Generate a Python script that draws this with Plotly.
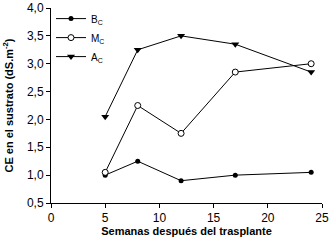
import plotly.graph_objects as go

weeks = [5, 8, 12, 17, 24]
b_c = [1.0, 1.25, 0.9, 1.0, 1.05]
m_c = [1.05, 2.25, 1.75, 2.85, 3.0]
a_c = [2.05, 3.25, 3.5, 3.35, 2.85]

x_ticks = [0, 5, 10, 15, 20, 25]
y_ticks = [0.5, 1.0, 1.5, 2.0, 2.5, 3.0, 3.5, 4.0]

fig = go.Figure()
fig.add_trace(go.Scatter(x=weeks, y=b_c, name="B<sub>C</sub>", mode="lines+markers",
                         line=dict(color="black", width=1),
                         marker=dict(symbol="circle", size=5, color="black")))
fig.add_trace(go.Scatter(x=weeks, y=m_c, name="M<sub>C</sub>", mode="lines+markers",
                         line=dict(color="black", width=1),
                         marker=dict(symbol="circle", size=6, color="white",
                                     line=dict(color="black", width=1))))
fig.add_trace(go.Scatter(x=weeks, y=a_c, name="A<sub>C</sub>", mode="lines+markers",
                         line=dict(color="black", width=1),
                         marker=dict(symbol="triangle-down", size=7, color="black")))

fig.update_layout(
    width=335, height=247,
    margin=dict(l=51, r=13, t=8, b=44, autoexpand=False),
    paper_bgcolor="white", plot_bgcolor="white",
    separators=",.",
    font=dict(family="Liberation Sans, Arial, sans-serif", size=12, color="black"),
    showlegend=True,
    legend=dict(x=0.0, y=1.02, xanchor="left", yanchor="top",
                bgcolor="rgba(0,0,0,0)", font=dict(size=10),
                tracegroupgap=0, itemwidth=30),
    xaxis=dict(range=[0, 25], tickvals=x_ticks, showgrid=False, zeroline=False,
               showline=True, linecolor="black", linewidth=1, automargin=False,
               ticks="outside", ticklen=4, tickcolor="black",
               title=dict(text="<b>Semanas después del trasplante</b>", font=dict(size=11), standoff=0)),
    yaxis=dict(range=[0.5, 4.0], tickvals=y_ticks, tickformat=".1f", showgrid=False, zeroline=False,
               showline=True, linecolor="black", linewidth=1, automargin=False,
               ticks="outside", ticklen=4, tickcolor="black",
               title=dict(text="<b>CE en el sustrato (dS.m<sup>-2</sup>)</b>", font=dict(size=11), standoff=11)),
)

fig.write_html("out.html", config={"displayModeBar": False},
               post_script="document.body.style.margin='0px';")
